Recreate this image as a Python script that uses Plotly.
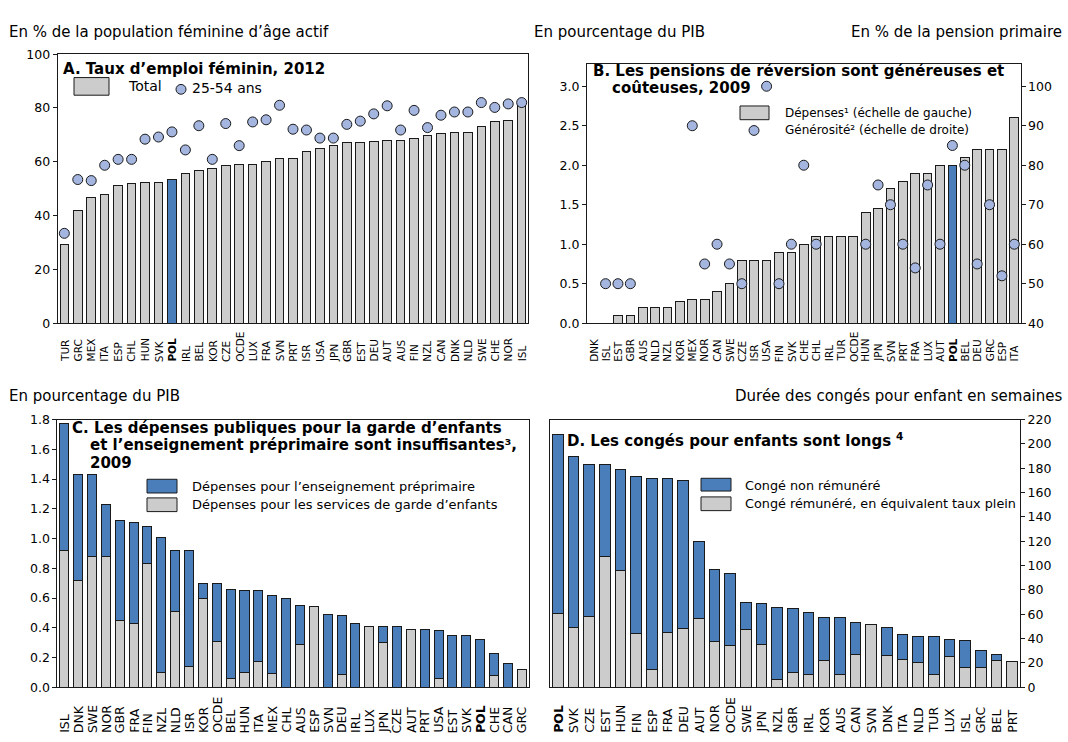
import plotly.graph_objects as go

W, H = 1068, 742


def px(x):
    return x / W


def py(y):
    return 1 - y / H


GRAY = "#CCCCCC"
BLUE = "#4A7EBB"
DOT = "#A4B6E0"
EDGE = "#1A1A1A"
FONT = "DejaVu Sans, Liberation Sans, sans-serif"

# ---- A. Taux d'emploi féminin, 2012 ----
pays_a = ["TUR", "GRC", "MEX", "ITA", "ESP", "CHL", "HUN", "SVK", "POL", "IRL",
          "BEL", "KOR", "CZE", "OCDE", "LUX", "FRA", "SVN", "PRT", "ISR", "USA",
          "JPN", "GBR", "EST", "DEU", "AUT", "AUS", "FIN", "NZL", "CAN", "DNK",
          "NLD", "SWE", "CHE", "NOR", "ISL"]
emploi_total = [29.1, 42.0, 46.6, 47.8, 51.3, 51.9, 52.2, 52.4, 53.3, 55.7,
                56.7, 57.6, 58.7, 59.0, 59.0, 60.1, 61.3, 61.3, 63.8, 64.8,
                65.9, 67.1, 67.1, 67.6, 67.8, 67.8, 68.8, 69.7, 70.5, 70.9,
                70.9, 73.2, 75.0, 75.2, 82.5]
emploi_25_54 = [33.4, 53.4, 53.0, 58.7, 60.9, 60.9, 68.4, 69.2, 71.1, 64.4,
                73.4, 60.9, 74.2, 66.0, 74.8, 75.6, 81.0, 72.1, 71.8, 68.8,
                68.8, 73.9, 75.1, 77.8, 80.8, 71.8, 79.1, 72.7, 77.3, 78.5,
                78.5, 82.0, 80.2, 81.5, 82.0]

# ---- B. Pensions de réversion, 2009 ----
pays_b = ["DNK", "ISL", "EST", "GBR", "AUS", "NLD", "NZL", "KOR", "MEX", "NOR",
          "CAN", "SWE", "CZE", "ISR", "USA", "FIN", "SVK", "CHE", "CHL", "IRL",
          "TUR", "OCDE", "HUN", "JPN", "SVN", "PRT", "FRA", "LUX", "AUT", "POL",
          "BEL", "DEU", "GRC", "ESP", "ITA"]
depenses_rev = [0.0, 0.0, 0.1, 0.1, 0.2, 0.2, 0.2, 0.28, 0.3, 0.3,
                0.4, 0.5, 0.8, 0.8, 0.8, 0.9, 0.9, 1.0, 1.1, 1.1,
                1.1, 1.1, 1.4, 1.45, 1.7, 1.8, 1.9, 1.9, 2.0, 2.0,
                2.1, 2.2, 2.2, 2.2, 2.6]
generosite = [None, 50, 50, 50, None, None, None, None, 90, 55,
              60, 55, 50, None, 100, 50, 60, 80, 60, None,
              None, None, 60, 75, 70, 60, 54, 75, 60, 85,
              80, 55, 70, 52, 60]

# ---- C. Garde d'enfants et préprimaire, 2009 ----
pays_c = ["ISL", "DNK", "SWE", "NOR", "GBR", "FRA", "FIN", "NZL", "NLD", "ISR",
          "KOR", "OCDE", "BEL", "HUN", "ITA", "MEX", "CHL", "AUS", "ESP", "SVN",
          "DEU", "IRL", "LUX", "JPN", "CZE", "AUT", "PRT", "USA", "EST", "SVK",
          "POL", "CHE", "CAN", "GRC"]
garde = [0.92, 0.72, 0.88, 0.88, 0.45, 0.43, 0.83, 0.10, 0.51, 0.14,
         0.60, 0.31, 0.06, 0.10, 0.17, 0.09, 0.0, 0.29, 0.54, 0.0,
         0.085, 0.0, 0.41, 0.30, 0.0, 0.39, 0.0, 0.06, 0.0, 0.0,
         0.0, 0.08, 0.0, 0.12]
preprimaire = [0.85, 0.71, 0.55, 0.35, 0.67, 0.68, 0.25, 0.91, 0.41, 0.78,
               0.10, 0.39, 0.60, 0.55, 0.48, 0.53, 0.60, 0.26, 0.0, 0.49,
               0.395, 0.43, 0.0, 0.11, 0.41, 0.0, 0.39, 0.32, 0.35, 0.35,
               0.32, 0.15, 0.16, 0.0]

# ---- D. Congés pour enfants ----
pays_d = ["POL", "SVK", "CZE", "EST", "HUN", "FIN", "ESP", "FRA", "DEU", "AUT",
          "NOR", "OCDE", "SWE", "JPN", "NZL", "GBR", "IRL", "KOR", "AUS", "CAN",
          "SVN", "DNK", "ITA", "NLD", "TUR", "LUX", "ISL", "GRC", "BEL", "PRT"]
conge_remunere = [60.7, 48.9, 58.0, 107.4, 96.1, 44.0, 15.0, 45.1, 48.0, 56.9,
                  37.6, 34.4, 47.8, 34.9, 6.4, 12.1, 10.2, 22.0, 10.2, 26.8,
                  51.3, 26.0, 22.5, 20.4, 10.5, 25.5, 16.4, 16.4, 21.7, 20.9]
conge_non_remunere = [147.0, 140.5, 125.2, 75.8, 83.0, 129.1, 156.4, 126.3, 121.5, 63.1,
                      59.0, 58.8, 21.7, 33.6, 59.4, 52.6, 51.5, 35.7, 47.2, 26.6,
                      0.0, 23.4, 21.0, 21.2, 31.1, 14.0, 22.3, 13.9, 4.9, 0.0]

fig = go.Figure()

line = dict(color=EDGE, width=1)

fig.add_trace(go.Bar(
    x=pays_a, y=emploi_total, xaxis="x", yaxis="y", width=0.64,
    marker=dict(color=[BLUE if p == "POL" else GRAY for p in pays_a], line=line)))
fig.add_trace(go.Scatter(
    x=pays_a, y=emploi_25_54, xaxis="x", yaxis="y", mode="markers",
    marker=dict(size=10, color=DOT, line=line)))

fig.add_trace(go.Bar(
    x=pays_b, y=depenses_rev, xaxis="x2", yaxis="y2", width=0.7,
    marker=dict(color=[BLUE if p == "POL" else GRAY for p in pays_b], line=line)))
fig.add_trace(go.Scatter(
    x=pays_b, y=generosite, xaxis="x2", yaxis="y3", mode="markers",
    marker=dict(size=10, color=DOT, line=line)))

fig.add_trace(go.Bar(
    x=pays_c, y=garde, xaxis="x3", yaxis="y4", width=0.65,
    marker=dict(color=GRAY, line=line)))
fig.add_trace(go.Bar(
    x=pays_c, y=preprimaire, xaxis="x3", yaxis="y4", width=0.65,
    marker=dict(color=BLUE, line=line)))

fig.add_trace(go.Bar(
    x=pays_d, y=conge_remunere, xaxis="x4", yaxis="y5", width=0.7,
    marker=dict(color=GRAY, line=line)))
fig.add_trace(go.Bar(
    x=pays_d, y=conge_non_remunere, xaxis="x4", yaxis="y5", width=0.7,
    marker=dict(color=BLUE, line=line)))

tickfont = dict(family=FONT, size=12.5, color="#000000")


def xaxis(dom, n, anchor):
    return dict(domain=dom, anchor=anchor, type="category", range=[-0.5, n - 0.5],
                showticklabels=False, ticks="", showline=True, mirror=True,
                linecolor=EDGE, linewidth=1, showgrid=False, zeroline=False)


def yaxis(dom, rng, dtick, anchor, side="left", fmt=None, overlay=None):
    d = dict(domain=dom, anchor=anchor, range=rng, dtick=dtick, tick0=0,
             side=side, ticks="outside", ticklen=4, tickcolor=EDGE,
             showline=True, linecolor=EDGE, linewidth=1, mirror=True,
             showgrid=False, zeroline=False, tickfont=tickfont)
    if fmt:
        d["tickformat"] = fmt
    if overlay:
        d["overlaying"] = overlay
        d["mirror"] = False
    return d


dom_top = [py(321.7), py(47.1)]
dom_topB = [py(321.7), py(57.3)]
dom_bot = [py(693.3), py(420.0)]

fig.update_layout(
    width=W, height=H, margin=dict(l=0, r=0, t=0, b=0),
    paper_bgcolor="white", plot_bgcolor="white",
    showlegend=False, barmode="stack", bargap=0.3,
    font=dict(family=FONT, size=13, color="#000000"),
    xaxis=xaxis([px(57.6), px(528.4)], len(pays_a), "y"),
    yaxis=yaxis(dom_top, [0, 100], 20, "x"),
    xaxis2=xaxis([px(587.0), px(1020.5)], len(pays_b), "y2"),
    yaxis2=yaxis(dom_topB, [0, 3.28], 0.5, "x2", fmt=".1f"),
    yaxis3=yaxis(dom_topB, [40, 105.6], 10, "x2", side="right", overlay="y2"),
    xaxis3=xaxis([px(57.4), px(528.6)], len(pays_c), "y4"),
    yaxis4=yaxis(dom_bot, [0, 1.8], 0.2, "x3", fmt=".1f"),
    xaxis4=xaxis([px(550.0), px(1020.0)], len(pays_d), "y5"),
    yaxis5=yaxis(dom_bot, [0, 220], 20, "x4", side="right"),
)
fig.layout.yaxis3.tick0 = 40

ann = []
shapes = []


def text(x, y, s, size=13, xanchor="left", yanchor="middle"):
    ann.append(dict(x=px(x), y=py(y), xref="paper", yref="paper", text=s,
                    showarrow=False, xanchor=xanchor, yanchor=yanchor,
                    font=dict(family=FONT, size=size, color="#000000"),
                    align="left", borderpad=0))


def box(x0, y0, x1, y1, color):
    shapes.append(dict(type="rect", xref="paper", yref="paper",
                       x0=px(x0), x1=px(x1), y0=py(y1), y1=py(y0),
                       fillcolor=color, line=dict(color=EDGE, width=1)))


def dot(cx, cy, r=5):
    shapes.append(dict(type="circle", xref="paper", yref="paper",
                       x0=px(cx - r), x1=px(cx + r), y0=py(cy + r), y1=py(cy - r),
                       fillcolor=DOT, line=dict(color=EDGE, width=1)))


# country labels under each panel
def country_labels(pays, xref, ybottom, size):
    for p in pays:
        s = "<b>POL</b>" if p == "POL" else p
        ann.append(dict(x=p, y=py(ybottom), xref=xref, yref="paper", text=s,
                        textangle=-90, showarrow=False, xanchor="center",
                        yanchor="bottom", borderpad=0,
                        font=dict(family=FONT, size=size, color="#000000")))


country_labels(pays_a, "x", 362, 10.5)
country_labels(pays_b, "x2", 362, 10.5)
country_labels(pays_c, "x3", 741, 12.5)
country_labels(pays_d, "x4", 741, 12.5)

# headers above the panels
text(8, 25, "En % de la population féminine d’âge actif", 15)
text(533, 25, "En pourcentage du PIB", 15)
text(1063, 25, "En % de la pension primaire", 15, xanchor="right")
text(8, 396, "En pourcentage du PIB", 15)
text(1063, 396, "Durée des congés pour enfant en semaines", 15, xanchor="right")

# panel A
text(62, 62, "<b>A. Taux d’emploi féminin, 2012</b>", 15)
box(74, 71, 109, 89, GRAY)
text(127, 80, "Total", 14)
dot(181, 83)
text(191, 82, "25-54 ans", 14)

# panel B
text(592, 64, "<b>B. Les pensions de réversion sont généreuses et</b>", 15)
text(611, 81.5, "<b>coûteuses, 2009</b>", 15)
box(740, 100, 769, 114, GRAY)
text(784, 107, "Dépenses¹ (échelle de gauche)", 12)
dot(754, 125)
text(784, 125, "Générosité² (échelle de droite)", 12)

# panel C
text(71, 429, "<b>C. Les dépenses publiques pour la garde d’enfants</b>", 15)
text(89, 446.5, "<b>et l’enseignement préprimaire sont insuffisantes³,</b>", 15)
text(89, 464, "<b>2009</b>", 15)
box(147, 481, 177, 495, BLUE)
text(191, 488, "Dépenses pour l’enseignement préprimaire", 13)
box(147, 500, 177, 514, GRAY)
text(191, 507, "Dépenses pour les services de garde d’enfants", 13)

# panel D
text(566, 441, "<b>D. Les congés pour enfants sont longs</b> <b><sup>4</sup></b>", 15)
box(701, 480, 731, 493, BLUE)
text(744, 487, "Congé non rémunéré", 12.8)
box(701, 499, 731, 513, GRAY)
text(744, 506, "Congé rémunéré, en équivalent taux plein", 12.8)

fig.update_layout(annotations=ann, shapes=shapes)
fig.write_html("out.html")
